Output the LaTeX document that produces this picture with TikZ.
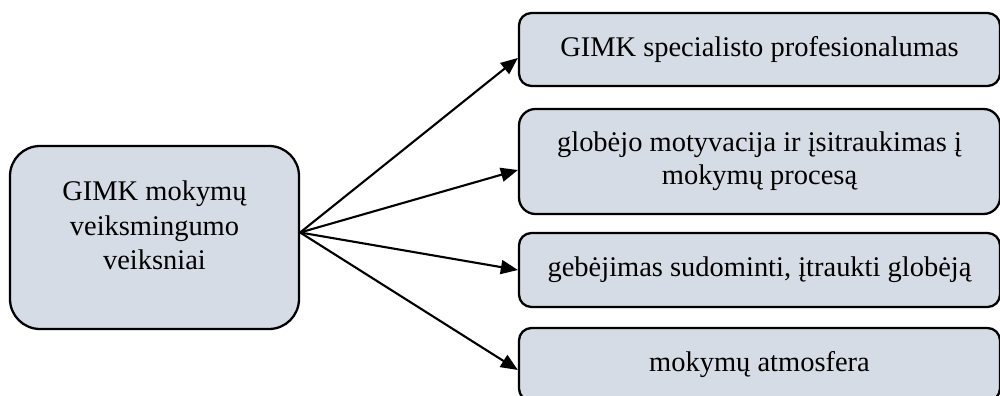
\documentclass[tikz,border=0pt]{standalone}
\usepackage{fontspec}
\setmainfont{Liberation Serif}
\usetikzlibrary{arrows.meta}
\definecolor{boxGray}{RGB}{214, 220, 229}

\begin{document}
\begin{tikzpicture}[
    every node/.style={font=\fontsize{16.2}{19.6}\selectfont},
    factor/.style={rectangle, rounded corners=0.25cm, draw=black, fill=boxGray, line width=1.3pt, minimum width=9.62cm, minimum height=1.46cm, align=center, inner sep=0pt},
    main/.style={rectangle, rounded corners=0.6cm, draw=black, fill=boxGray, line width=1.3pt, minimum width=5.78cm, minimum height=3.66cm, align=center, inner sep=0pt},
    link/.style={-{Triangle[length=0.34cm, width=0.28cm]}, line width=1.2pt},
]
\useasboundingbox (0, 0) rectangle (20, -7.92);
\node[main] (M) at (3.09, -4.75) {GIMK mokymų\\ veiksmingumo\\ veiksniai\\[-6pt] \mbox{}};
\node[factor] (F1) at (15.19, -0.99) {GIMK specialisto profesionalumas};
\node[factor, minimum height=2.1cm, rounded corners=0.33cm] (F2) at (15.19, -3.23) {globėjo motyvacija ir įsitraukimas į\\[-0.8pt] mokymų procesą};
\node[factor, minimum height=1.48cm] (F3) at (15.19, -5.4) {gebėjimas sudominti, įtraukti globėją};
\node[factor] (F4) at (15.19, -7.29) {mokymų atmosfera};
\draw[link] ([yshift=0.1cm]M.east) -- ([yshift=-0.17cm]F1.west);
\draw[link] ([yshift=0.1cm]M.east) -- ([yshift=-0.17cm]F2.west);
\draw[link] ([yshift=0.1cm]M.east) -- (F3.west);
\draw[link] ([yshift=0.1cm]M.east) -- ([yshift=-0.11cm]F4.west);
\end{tikzpicture}
\end{document}
